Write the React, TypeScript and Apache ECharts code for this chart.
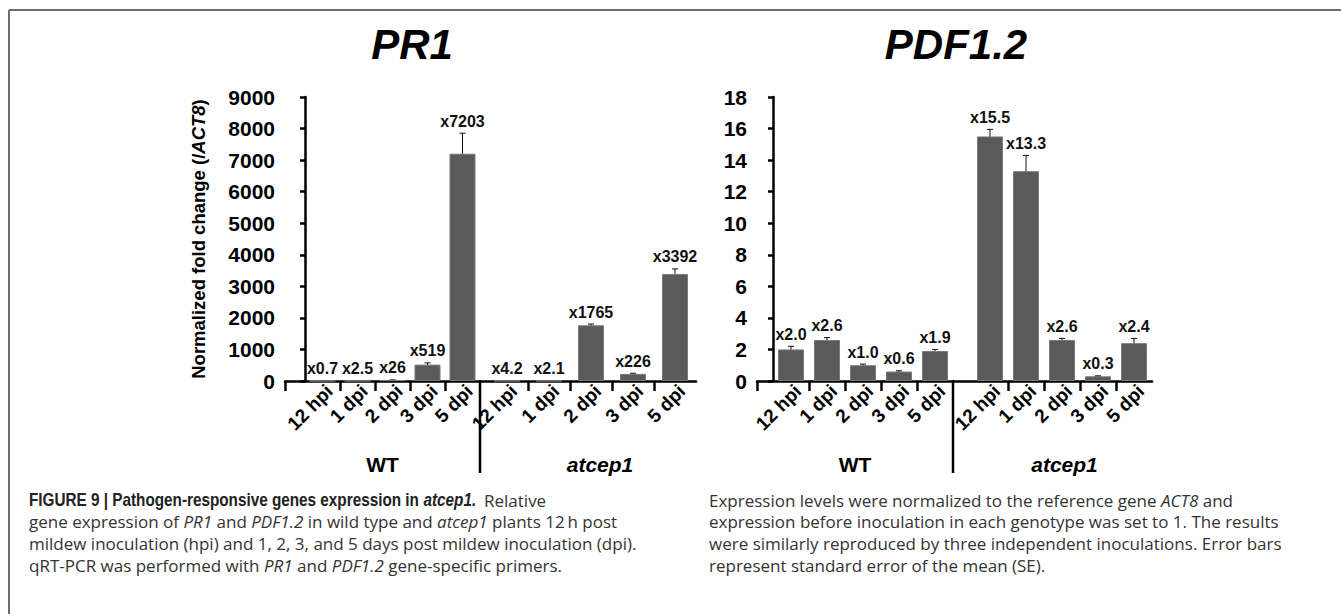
import React, { useEffect, useRef } from 'react';
import * as echarts from 'echarts';

// ---------- data ----------
const timePoints = ['12 hpi', '1 dpi', '2 dpi', '3 dpi', '5 dpi'];
const genotypes = ['WT', 'atcep1'];
const geneTitles = ['PR1', 'PDF1.2'];

const pr1WT = [0.7, 2.5, 26, 519, 7203];
const pr1WTErr = [2, 3, 8, 55, 650];
const pr1Mut = [4.2, 2.1, 1765, 226, 3392];
const pr1MutErr = [2, 2, 40, 20, 160];

const pdfWT = [2.0, 2.6, 1.0, 0.6, 1.9];
const pdfWTErr = [0.2, 0.15, 0.07, 0.05, 0.1];
const pdfMut = [15.5, 13.3, 2.6, 0.3, 2.4];
const pdfMutErr = [0.45, 1.0, 0.1, 0.03, 0.3];

const pr1AxisMax = 9000;
const pr1AxisInterval = 1000;
const pdfAxisMax = 18;
const pdfAxisInterval = 2;

// ---------- styling / layout ----------
const FONT = '"Liberation Sans", Arial, Helvetica, sans-serif';
const CAP_FONT = '"Open Sans", "Liberation Sans", Arial, sans-serif';
const GRID_TOP = 97;
const GRID_H = 284;
const AXIS_Y = GRID_TOP + GRID_H;
const BAR_COLOR = '#5a5a5a';
const LABEL_SHIFT = 7;

const pr1Dec = (v: number) => (v < 10 ? 1 : 0);
const pdfDec = (_v: number) => 1;

type Panel = {
  left: number; lead: number; cat: number;
  values: number[]; errs: number[];
  max: number; interval: number; showY: boolean; yName: boolean;
  group: string; italic: boolean; groupPad: number;
  dec: (v: number) => number;
};

const panels: Panel[] = [
  { left: 285, lead: 20, cat: 35, values: pr1WT, errs: pr1WTErr, max: pr1AxisMax, interval: pr1AxisInterval, showY: true, yName: true, group: genotypes[0], italic: false, groupPad: 0, dec: pr1Dec },
  { left: 480, lead: 6, cat: 42, values: pr1Mut, errs: pr1MutErr, max: pr1AxisMax, interval: pr1AxisInterval, showY: false, yName: false, group: genotypes[1], italic: true, groupPad: 24, dec: pr1Dec },
  { left: 757, lead: 16, cat: 36, values: pdfWT, errs: pdfWTErr, max: pdfAxisMax, interval: pdfAxisInterval, showY: true, yName: false, group: genotypes[0], italic: false, groupPad: 0, dec: pdfDec },
  { left: 953, lead: 19, cat: 36, values: pdfMut, errs: pdfMutErr, max: pdfAxisMax, interval: pdfAxisInterval, showY: false, yName: false, group: genotypes[1], italic: true, groupPad: 24, dec: pdfDec },
];

const captionHeading = '{b|FIGURE 9 | Pathogen-responsive genes expression in }{bi|atcep1.}';
const captionLeft = [
  '{n|Relative}',
  '{n|gene expression of }{i|PR1}{n| and }{i|PDF1.2}{n| in wild type and }{i|atcep1}{n| plants 12\u2009h post}',
  '{n|mildew inoculation (hpi) and 1, 2, 3, and 5 days post mildew inoculation (dpi).}',
  '{n|qRT-PCR was performed with }{i|PR1}{n| and }{i|PDF1.2}{n| gene-specific primers.}',
];
const captionRight = [
  '{n|Expression levels were normalized to the reference gene }{i|ACT8}{n| and}',
  '{n|expression before inoculation in each genotype was set to 1. The results}',
  '{n|were similarly reproduced by three independent inoculations. Error bars}',
  '{n|represent standard error of the mean (SE).}',
];

const CAP_SIZE = 17;
const CAP_TOP = 500;
const CAP_LINE = 21.7;
const CAP_COLOR = '#333';
const capRich = {
  n: { fontFamily: CAP_FONT, fontSize: CAP_SIZE, fill: CAP_COLOR, color: CAP_COLOR },
  i: { fontFamily: CAP_FONT, fontSize: CAP_SIZE, fontStyle: 'italic', fill: CAP_COLOR, color: CAP_COLOR },
  b: { fontFamily: FONT, fontSize: 18, fontWeight: 'bold', fill: '#222', color: '#222' },
  bi: { fontFamily: FONT, fontSize: 18, fontWeight: 'bold', fontStyle: 'italic', fill: '#222', color: '#222' },
};

function buildOption() {
  const grid = panels.map((p) => ({ left: p.left, top: GRID_TOP, width: p.lead + 5 * p.cat, height: GRID_H }));
  const axisLineStyle = { color: '#000', width: 2.5 };

  const xAxis = panels.map((p, k) => {
    const min = -p.lead / p.cat;
    return {
      type: 'value', gridIndex: k, min, max: 5,
      axisLine: { show: true, onZero: false, lineStyle: axisLineStyle },
      axisTick: {
        show: true, length: 10, lineStyle: axisLineStyle,
        customValues: k % 2 === 0 ? [min, 1, 2, 3, 4] : [1, 2, 3, 4],
      },
      axisLabel: {
        customValues: timePoints.map((_, i) => i + 0.5 + LABEL_SHIFT / p.cat),
        formatter: (v: number) => timePoints[Math.floor(v)] ?? '',
        rotate: 45, margin: 7, fontSize: 19, fontWeight: 'bold', color: '#000', fontFamily: FONT,
      },
      splitLine: { show: false },
      name: p.group, nameLocation: 'middle', nameGap: 73,
      nameTextStyle: {
        fontSize: 21, fontWeight: 'bold', fontStyle: p.italic ? 'italic' : 'normal', color: '#000', fontFamily: FONT,
        padding: [0, 0, 0, p.groupPad],
      },
    };
  });

  const yAxis = panels.map((p, k) => ({
    type: 'value', gridIndex: k, min: 0, max: p.max, interval: p.interval, show: p.showY,
    axisLine: { show: true, lineStyle: axisLineStyle },
    axisTick: { show: true, length: 5, lineStyle: axisLineStyle },
    axisLabel: { fontSize: 21, fontWeight: 'bold', color: '#000', margin: 10, fontFamily: FONT, formatter: (v: number) => String(v) },
    splitLine: { show: false },
    ...(p.yName
      ? {
          name: '{b|Normalized fold change (/}{i|ACT8}{b|)}',
          nameLocation: 'middle', nameGap: 77, nameRotate: 90,
          nameTextStyle: {
            rich: {
              b: { fontSize: 18.5, fontWeight: 'bold', color: '#000', fontFamily: FONT },
              i: { fontSize: 18.5, fontWeight: 'bold', fontStyle: 'italic', color: '#000', fontFamily: FONT },
            },
          },
        }
      : {}),
  }));

  const series: any[] = [];
  panels.forEach((p, k) => {
    series.push({
      type: 'bar', xAxisIndex: k, yAxisIndex: k, barWidth: 26,
      data: p.values.map((v, i) => [i + 0.5, v]),
      itemStyle: { color: BAR_COLOR, borderColor: '#7a7a7a', borderWidth: 1 },
      silent: true,
    });
    series.push({
      type: 'custom', xAxisIndex: k, yAxisIndex: k, clip: false, silent: true,
      encode: { x: 0, y: 1 },
      data: p.values.map((v, i) => [i + 0.5, v, p.errs[i]]),
      renderItem: (params: any, api: any) => {
        const x = api.value(0);
        const v = api.value(1);
        const e = api.value(2);
        const top = api.coord([x, v + e]);
        const bot = api.coord([x, Math.max(v - e, 0)]);
        const cap = 3;
        const st = { stroke: '#111', lineWidth: 1 };
        const label = 'x' + v.toFixed(p.dec(v));
        return {
          type: 'group',
          children: [
            { type: 'line', shape: { x1: top[0], y1: top[1], x2: bot[0], y2: bot[1] }, style: st },
            { type: 'line', shape: { x1: top[0] - cap, y1: top[1], x2: top[0] + cap, y2: top[1] }, style: st },
            { type: 'line', shape: { x1: bot[0] - cap, y1: bot[1], x2: bot[0] + cap, y2: bot[1] }, style: st },
            {
              type: 'text', x: top[0], y: top[1] - 4,
              style: {
                text: label, textAlign: 'center', textVerticalAlign: 'bottom',
                font: `bold 16px ${FONT}`, fill: '#111',
              },
            },
          ],
        };
      },
    });
  });

  const graphic: any[] = [
    // figure frame
    { type: 'line', shape: { x1: 9, y1: 10, x2: 1341, y2: 10 }, style: { stroke: '#6e6e6e', lineWidth: 2 } },
    { type: 'line', shape: { x1: 9, y1: 10, x2: 9, y2: 614 }, style: { stroke: '#6e6e6e', lineWidth: 2 } },
    // gene titles
    { type: 'text', x: 412, y: 44, style: { text: geneTitles[0], textAlign: 'center', textVerticalAlign: 'middle', font: `italic bold 42px ${FONT}`, fill: '#000' } },
    { type: 'text', x: 956, y: 44, style: { text: geneTitles[1], textAlign: 'center', textVerticalAlign: 'middle', font: `italic bold 42px ${FONT}`, fill: '#000' } },
  ];
  // genotype separators (the boundary between the two genotype grids)
  [panels[1].left, panels[3].left].forEach((x) => {
    graphic.push({ type: 'line', shape: { x1: x, y1: AXIS_Y - 1, x2: x, y2: AXIS_Y + 92 }, style: { stroke: '#000', lineWidth: 2.5 } });
  });
  // caption heading (condensed bold)
  graphic.push({ type: 'text', x: 29, y: CAP_TOP, scaleX: 0.85, originX: 0, style: { text: captionHeading, rich: capRich, textVerticalAlign: 'middle', font: `bold 18px ${FONT}` } });
  captionLeft.forEach((t, i) => {
    graphic.push({ type: 'text', x: i === 0 ? 484 : 29, y: CAP_TOP + i * CAP_LINE, style: { text: t, rich: capRich, textVerticalAlign: 'middle', font: `${CAP_SIZE}px ${CAP_FONT}` } });
  });
  captionRight.forEach((t, i) => {
    graphic.push({ type: 'text', x: 709, y: CAP_TOP + i * CAP_LINE, style: { text: t, rich: capRich, textVerticalAlign: 'middle', font: `${CAP_SIZE}px ${CAP_FONT}` } });
  });

  return { animation: false, backgroundColor: '#fff', grid, xAxis, yAxis, series, graphic };
}

export default function App() {
  const ref = useRef<HTMLDivElement>(null);
  useEffect(() => {
    if (!ref.current) return;
    const chart = echarts.init(ref.current, undefined, { renderer: 'svg' });
    chart.setOption(buildOption() as any);
    return () => chart.dispose();
  }, []);
  return <div ref={ref} style={{ position: 'absolute', left: 0, top: 0, width: 1341, height: 614 }} />;
}
